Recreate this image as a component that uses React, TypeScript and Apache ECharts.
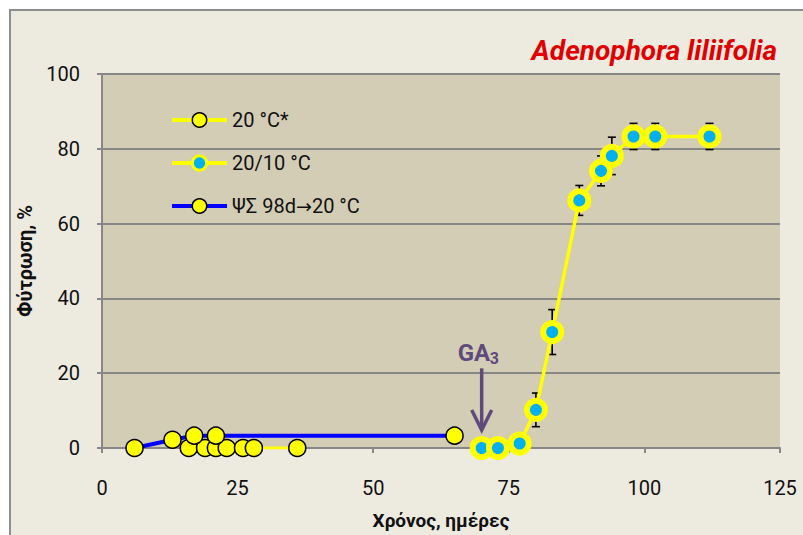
import { useEffect, useRef } from "react";
import * as echarts from "echarts";

const seriesNames = ["20 °C*", "20/10 °C", "ΨΣ 98d→20 °C"];

// 20 °C*
const constDays = [16, 19, 21, 23, 26, 28, 36];
const constGerm = [0, 0, 0, 0, 0, 0, 0];

// 20/10 °C
const altDays = [70, 73, 77, 80, 83, 88, 92, 94, 98, 102, 112];
const altGerm = [0, 0, 1.2, 10.2, 31, 66.2, 74.1, 78.1, 83.3, 83.3, 83.3];
const altErr = [0, 0, 0, 4.5, 6, 4, 4, 5, 3.5, 3.5, 3.5];

// ΨΣ 98d→20 °C
const wsDays = [6, 13, 17, 21, 65];
const wsGerm = [0, 2.2, 3.3, 3.3, 3.3];

const xMin = 0, xMax = 125, xStep = 25;
const yMin = 0, yMax = 100, yStep = 20;

const titleText = "Adenophora liliifolia";
const xName = "Χρόνος, ημέρες";
const yName = "Φύτρωση, %";
const gaDay = 70;
const gaTop = 21.3;
const gaTip = 4.8;

const FONT = "Roboto";
const AXIS_GRAY = "#878787";
const PURPLE = "#604A7B";

export default function App() {
  const ref = useRef<HTMLDivElement>(null);
  useEffect(() => {
    if (!ref.current) return;
    const chart = echarts.init(ref.current, null, { renderer: "svg" });
    const zip = (xs: number[], ys: number[]) => xs.map((x, i) => [x, ys[i]]);
    const errData = altDays.map((x, i) => [x, altGerm[i], altErr[i]]);
    chart.setOption({
      animation: false,
      backgroundColor: "#ffffff",
      textStyle: { fontFamily: FONT },
      title: {
        text: titleText,
        right: 21,
        top: 31,
        textStyle: {
          fontFamily: FONT,
          fontStyle: "italic",
          fontWeight: "bold",
          fontSize: 28,
          color: "#E00000",
        },
      },
      grid: {
        left: 102,
        top: 74,
        right: 23,
        bottom: 85,
        show: true,
        backgroundColor: "#D4CDB6",
        borderWidth: 0,
      },
      legend: {
        left: 165,
        top: 105,
        orient: "vertical",
        itemWidth: 55,
        itemHeight: 18,
        itemGap: 23,
        formatter: (name: string) => name.replace("→", "{a|→}"),
        textStyle: {
          fontFamily: FONT,
          fontSize: 20,
          color: "#111",
          rich: { a: { fontFamily: "DejaVu Sans", fontSize: 19, color: "#111" } },
        },
        data: [
          { name: seriesNames[0], itemStyle: { borderWidth: 1.5 }, lineStyle: { width: 4 } },
          { name: seriesNames[1], itemStyle: { borderWidth: 3 }, lineStyle: { width: 4 } },
          { name: seriesNames[2], itemStyle: { borderWidth: 1.5 }, lineStyle: { width: 4 } },
        ],
      },
      xAxis: {
        type: "value",
        min: xMin,
        max: xMax,
        interval: xStep,
        name: xName,
        nameLocation: "middle",
        nameGap: 63,
        nameTextStyle: { fontFamily: FONT, fontWeight: "bold", fontSize: 19, color: "#111" },
        axisLine: { show: true, lineStyle: { color: AXIS_GRAY, width: 2 } },
        axisTick: { show: true, length: 5, lineStyle: { color: AXIS_GRAY, width: 2 } },
        axisLabel: { fontFamily: FONT, fontSize: 20, color: "#111", margin: 30 },
        splitLine: { show: false },
      },
      yAxis: {
        type: "value",
        min: yMin,
        max: yMax,
        interval: yStep,
        name: yName,
        nameLocation: "middle",
        nameRotate: 90,
        nameGap: 62,
        nameTextStyle: { fontFamily: FONT, fontWeight: "bold", fontSize: 20, color: "#111" },
        axisLine: { show: true, lineStyle: { color: AXIS_GRAY, width: 2 } },
        axisTick: { show: true, length: 5, lineStyle: { color: AXIS_GRAY, width: 2 } },
        axisLabel: { fontFamily: FONT, fontSize: 20, color: "#111", margin: 22 },
        splitLine: { show: true, lineStyle: { color: AXIS_GRAY, width: 2 } },
      },
      graphic: [
        {
          id: "frame",
          type: "rect",
          z: -100,
          silent: true,
          shape: { x: 10, y: 10, width: 900, height: 700 },
          style: { fill: "#EDEAE0", stroke: "#8E8E8E", lineWidth: 2 },
        },
      ],
      series: [
        {
          type: "custom",
          name: "err",
          z: 2,
          data: errData,
          renderItem: (params: any, api: any) => {
            const x = api.value(0);
            const y = api.value(1);
            const e = api.value(2);
            if (!e) return null;
            const hi = api.coord([x, y + e]);
            const lo = api.coord([x, y - e]);
            const w = 4;
            const st = { stroke: "#000", lineWidth: 1.6 };
            return {
              type: "group",
              children: [
                { type: "line", shape: { x1: hi[0], y1: hi[1], x2: lo[0], y2: lo[1] }, style: st },
                { type: "line", shape: { x1: hi[0] - w, y1: hi[1], x2: hi[0] + w, y2: hi[1] }, style: st },
                { type: "line", shape: { x1: lo[0] - w, y1: lo[1], x2: lo[0] + w, y2: lo[1] }, style: st },
              ],
            };
          },
        },
        {
          type: "line",
          name: seriesNames[0],
          z: 3,
          data: zip(constDays, constGerm),
          symbol: "circle",
          symbolSize: 17,
          lineStyle: { color: "#FFFF00", width: 3 },
          itemStyle: { color: "#FFFF00", borderColor: "#000", borderWidth: 1.5 },
        },
        {
          type: "line",
          name: seriesNames[2],
          z: 4,
          data: zip(wsDays, wsGerm),
          symbol: "circle",
          symbolSize: 17,
          lineStyle: { color: "#0000FF", width: 4 },
          itemStyle: { color: "#FFFF00", borderColor: "#000", borderWidth: 1.5 },
        },
        {
          type: "line",
          name: seriesNames[1],
          z: 5,
          data: zip(altDays, altGerm),
          symbol: "circle",
          symbolSize: 18,
          lineStyle: { color: "#FFFF00", width: 3.5 },
          itemStyle: { color: "#00B0F0", borderColor: "#FFFF00", borderWidth: 6 },
        },
      ],
    });

    const top = chart.convertToPixel({ gridIndex: 0 }, [gaDay, gaTop]) as number[];
    const tip = chart.convertToPixel({ gridIndex: 0 }, [gaDay, gaTip]) as number[];
    chart.setOption({
      graphic: [
        {
          id: "gaLine",
          type: "line",
          z: 10,
          shape: { x1: top[0], y1: top[1], x2: tip[0], y2: tip[1] - 1 },
          style: { stroke: PURPLE, lineWidth: 3.5 },
        },
        {
          id: "gaHead",
          type: "polyline",
          z: 10,
          shape: { points: [[tip[0] - 10, tip[1] - 20], [tip[0], tip[1]], [tip[0] + 10, tip[1] - 20]] },
          style: { stroke: PURPLE, lineWidth: 3.5, fill: null },
        },
        {
          id: "gaText",
          type: "text",
          z: 10,
          x: tip[0] - 24,
          y: top[1] - 15,
          style: {
            text: "GA",
            fontFamily: FONT,
            fontWeight: "bold",
            fontSize: 24,
            fill: PURPLE,
            align: "left",
            verticalAlign: "middle",
          },
        },
        {
          id: "gaSub",
          type: "text",
          z: 10,
          x: tip[0] + 8,
          y: top[1] - 10,
          style: {
            text: "3",
            fontFamily: FONT,
            fontWeight: "bold",
            fontSize: 16,
            fill: PURPLE,
            align: "left",
            verticalAlign: "middle",
          },
        },
      ],
    });
    return () => chart.dispose();
  }, []);
  return (
    <div
      ref={ref}
      style={{ position: "absolute", left: 0, top: 0, width: 803, height: 535 }}
    />
  );
}
